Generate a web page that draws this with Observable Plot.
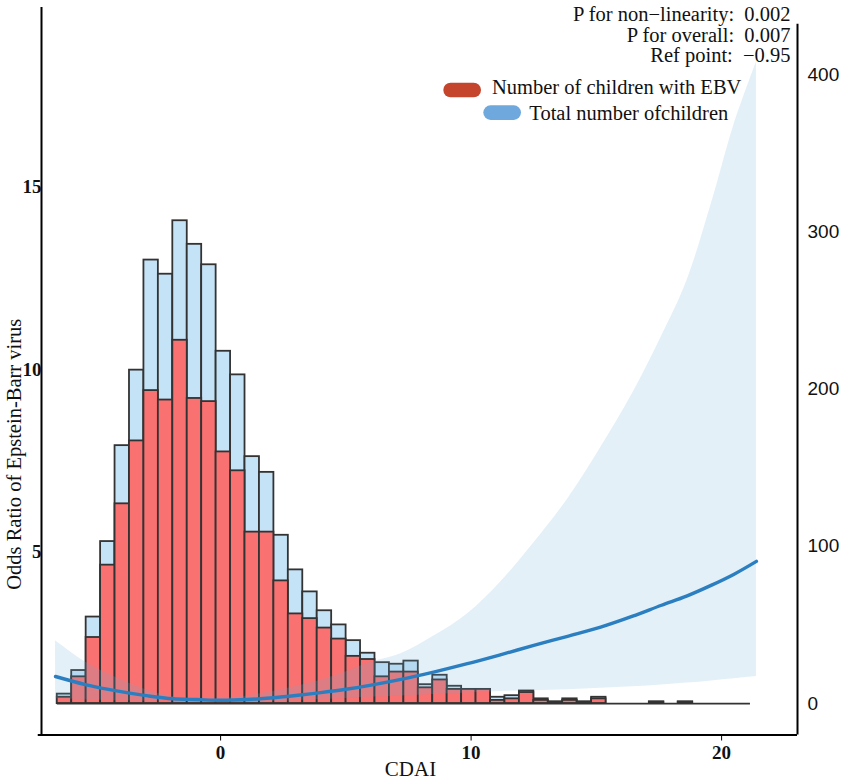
<!DOCTYPE html>
<html><head><meta charset="utf-8">
<script src="https://cdn.jsdelivr.net/npm/d3@7"></script>
<script src="https://cdn.jsdelivr.net/npm/@observablehq/plot@0.6"></script>
<style>
body{margin:0;background:#fff;}
#wrap{position:relative;width:844px;height:780px;overflow:hidden;}
#wrap svg{position:absolute;left:0;top:0;}
svg text{white-space:pre;}
</style></head><body><div id="wrap"></div>
<script>
// ---------- data ----------
const binStart = -6.52;
const binWidth = 0.5765;
const totalCounts = [6,21,55,103,164,212,282,273,307,292,279,224,209,157,147,107,85,71,59,50,40,32,26,25,27,12,18,11,9,9,4,5,8,3,1,3,1,4,0,0,0,1,0,1,0,0,0,0];
const ebvCounts   = [4,17,42,88,127,167,199,193,231,194,192,160,148,109,109,78,57,54,48,41,30,28,17,20,20,10,15,9,9,9,2,3,7,2,1,2,1,3,0,0,0,1,0,1,0,0,0,0];

const splineX = [-6.59,-5.4,-4.1,-2.9,-1.9,-0.95,0.0,1.07,2.12,3.0,4.0,5.0,5.9,7.2,8.5,9.85,11.2,12.5,13.85,15.17,16.45,17.6,18.6,19.6,20.5,21.39];
const orEst  = [1.60,1.38,1.20,1.07,0.99,0.97,0.95,0.97,1.02,1.08,1.16,1.25,1.35,1.52,1.72,1.95,2.20,2.45,2.70,2.95,3.25,3.55,3.80,4.10,4.40,4.75];
const orLow  = [0.99,0.96,0.94,0.93,0.95,0.97,0.92,0.91,0.92,0.94,0.97,1.00,1.03,1.07,1.11,1.15,1.19,1.21,1.24,1.28,1.32,1.37,1.42,1.48,1.54,1.60];
const orHigh = [2.58,2.00,1.55,1.22,1.05,0.97,1.00,1.07,1.20,1.33,1.50,1.72,1.97,2.22,2.70,3.31,4.20,5.25,6.45,7.86,9.35,10.9,12.4,14.55,16.7,18.4];

const xTicks = [0,10,20];
const orTicks = [5,10,15];
const countTicks = [0,100,200,300,400];
const statsLines = ["P for non\u2212linearity:  0.002","P for overall:  0.007","Ref point:  \u22120.95"];
const legendLabels = ["Number of children with EBV","Total number ofchildren"];
const legendColors = ["#c4452c","#6fa8dc"];
const xLabel = "CDAI";
const yLabel = "Odds Ratio of Epstein-Barr virus";

// ---------- layout ----------
const W = 844, H = 780, mL = 41, mR = 47, mT = 7, mB = 45.5;
const xDomain = [-7.15, 23.03];
const orDomain = [0, 19.9];
const countDomain = [-20.0, 442.6];
const serif = "Liberation Serif";

const bins = totalCounts.map((t,i)=>({x1: binStart+i*binWidth, x2: binStart+(i+1)*binWidth, total: t, ebv: ebvCounts[i]}));
const spline = splineX.map((x,i)=>({x, est: orEst[i], lo: orLow[i], hi: orHigh[i]}));

const wrap = document.getElementById("wrap");

// histogram layer (right axis)
const histPlot = Plot.plot({
  width: W, height: H, marginLeft: mL, marginRight: mR, marginTop: mT, marginBottom: mB,
  x: {domain: xDomain, axis: null},
  y: {domain: countDomain, axis: null},
  style: {background: "transparent"},
  marks: [
    Plot.rect(bins, {x1: "x1", x2: "x2", y1: 0, y2: "total", inset: 0, fill: "#c5e3f7", stroke: "#333", strokeWidth: 1.8}),
    Plot.rect(bins, {x1: "x1", x2: "x2", y1: 0, y2: "ebv", inset: 0, fill: "#f97171", stroke: "#333", strokeWidth: 1.8}),
    Plot.ruleY([0], {x1: binStart, x2: binStart + totalCounts.length*binWidth, stroke: "#333", strokeWidth: 1.8}),
    Plot.axisY(countTicks, {anchor: "right", tickSize: 0, tickPadding: 10, fontSize: 19, fontFamily: "Liberation Sans", fill: "#111", label: null}),
    Plot.ruleX([xDomain[1]], {y1: countDomain[0], y2: 432, stroke: "#000", strokeWidth: 2})
  ]
});
wrap.appendChild(histPlot);

// spline layer (left axis, x axis)
const splinePlot = Plot.plot({
  width: W, height: H, marginLeft: mL, marginRight: mR, marginTop: mT, marginBottom: mB,
  x: {domain: xDomain, axis: null},
  y: {domain: orDomain, axis: null},
  style: {background: "transparent", overflow: "visible"},
  marks: [
    Plot.areaY(spline, {x: "x", y1: "lo", y2: "hi", fill: "#6baed6", fillOpacity: 0.19, curve: "catmull-rom"}),
    Plot.lineY(spline, {x: "x", y: "est", stroke: "#2b7fc0", strokeWidth: 3.4, curve: "catmull-rom"}),
    Plot.ruleX([xDomain[0]], {y1: 0, y2: orDomain[1], stroke: "#000", strokeWidth: 2}),
    Plot.ruleY([0], {x1: xDomain[0]-0.13, x2: xDomain[1], stroke: "#000", strokeWidth: 2}),
    Plot.axisX(xTicks, {anchor: "bottom", tickSize: 6, tickPadding: 4, fontSize: 19, fontWeight: "bold", fontFamily: serif, fill: "#111", label: null}),
    Plot.axisY(orTicks, {anchor: "left", tickSize: 0, tickPadding: 0, fontSize: 19, fontWeight: "bold", fontFamily: serif, fill: "#111", label: null}),
    Plot.text([yLabel], {frameAnchor: "left", textAnchor: "middle", lineAnchor: "middle", rotate: -90, dx: -27, dy: 83, fontSize: 20.5, fontFamily: serif, fill: "#111"}),
    Plot.text([xLabel], {frameAnchor: "bottom", textAnchor: "middle", lineAnchor: "middle", dx: -9, dy: 34, fontSize: 21, fontFamily: serif, fill: "#111"}),
    Plot.text([statsLines.join("\n")], {frameAnchor: "top-right", textAnchor: "end", lineAnchor: "top", lineHeight: 1.0, dx: -7, dy: -1, fontSize: 20.5, fontFamily: serif, fill: "#111"})
  ]
});
wrap.appendChild(splinePlot);

// legend overlay
const leg = d3.create("svg").attr("width", W).attr("height", H).style("pointer-events", "none");
const legendRows = [
  {px: 443.3, py: 82.7, tx: 492, ty: 94.3},
  {px: 483.3, py: 105.3, tx: 529.3, ty: 120}
];
legendRows.forEach((r, i) => {
  leg.append("rect").attr("x", r.px).attr("y", r.py).attr("width", 37.7).attr("height", 14.6)
     .attr("rx", 7.3).attr("fill", legendColors[i]);
  leg.append("text").attr("x", r.tx).attr("y", r.ty).attr("font-family", serif).attr("font-size", 20.5)
     .attr("fill", "#111").text(legendLabels[i]);
});
wrap.appendChild(leg.node());
</script></body></html>
